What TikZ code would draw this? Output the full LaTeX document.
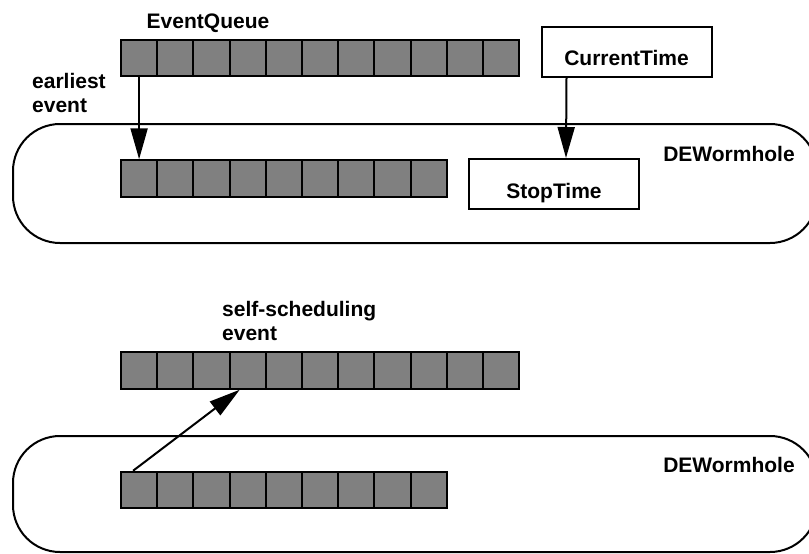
\documentclass[tikz,border=0pt]{standalone}
\usepackage{fontspec}
\setmainfont{Liberation Sans}
\usetikzlibrary{arrows.meta}
\definecolor{cellgray}{RGB}{128,128,128}
\tikzset{
  cell/.style = {draw, line width=2pt, fill=cellgray, minimum width=36.2pt, minimum height=36.5pt, inner sep=0pt},
  timebox/.style = {draw, line width=2pt, minimum width=170pt, minimum height=50pt, text depth=0pt},
  flow/.style = {line width=2pt, arrows={-Triangle[length=31pt,width=17pt]}},
  wormhole/.style = {line width=2pt, rounded corners=47pt},
  lbl/.style = {font=\bfseries\fontsize{21}{23.5}\selectfont, inner sep=0pt}
}
\begin{document}
\begin{tikzpicture}[x=1pt, y=-1pt]
\useasboundingbox (0,0) rectangle (809,554); % page size
\clip (0,0) rectangle (809,554);

%%% upper picture
\draw[wormhole] (13,124) rectangle (817,243); % DEWormhole outline
\node[lbl, anchor=base] (wormTop) at (729,161) {DEWormhole}; % DEWormhole's label

\foreach \i in {1,...,11} \node[cell] (eq-\i) at (102.9+36.2*\i,58) {}; % EventQueue
\node[lbl, anchor=base] (eqLabel) at (208,28.5) {EventQueue}; % EventQueue's label
\foreach \i in {1,...,9} \node[cell] (wq-\i) at (102.9+36.2*\i,178.5) {}; % queue inside the wormhole

\node[timebox, lbl, text height=26pt] (currentTime) at (626.5,52) {CurrentTime}; % CurrentTime box
\node[timebox, lbl, text height=28pt] (stopTime) at (554,184) {StopTime}; % StopTime box

\draw[flow] (eq-1.south) -- (wq-1.north); % earliest event goes in
\node[lbl, anchor=base west, align=left] (earliest) at (32,112) {earliest\\event}; % its label
\draw[flow] ([xshift=-60pt]currentTime.south) -- ([xshift=12pt]stopTime.north); % time is passed on

%%% lower picture
\draw[wormhole] (13,436) rectangle (817,552); % DEWormhole outline
\node[lbl, anchor=base] (wormBot) at (729,472) {DEWormhole}; % DEWormhole's label

\foreach \i in {1,...,11} \node[cell] (bq-\i) at (102.9+36.2*\i,370.5) {}; % EventQueue
\foreach \i in {1,...,9} \node[cell] (sq-\i) at (102.9+36.2*\i,490) {}; % queue inside the wormhole

\draw[flow] ([xshift=-6pt]sq-1.north) -- ([xshift=-8pt]bq-4.south); % event sent back out
\node[lbl, anchor=base west, align=left] (selfSched) at (222,340) {self-scheduling\\event}; % its label

\end{tikzpicture}
\end{document}
